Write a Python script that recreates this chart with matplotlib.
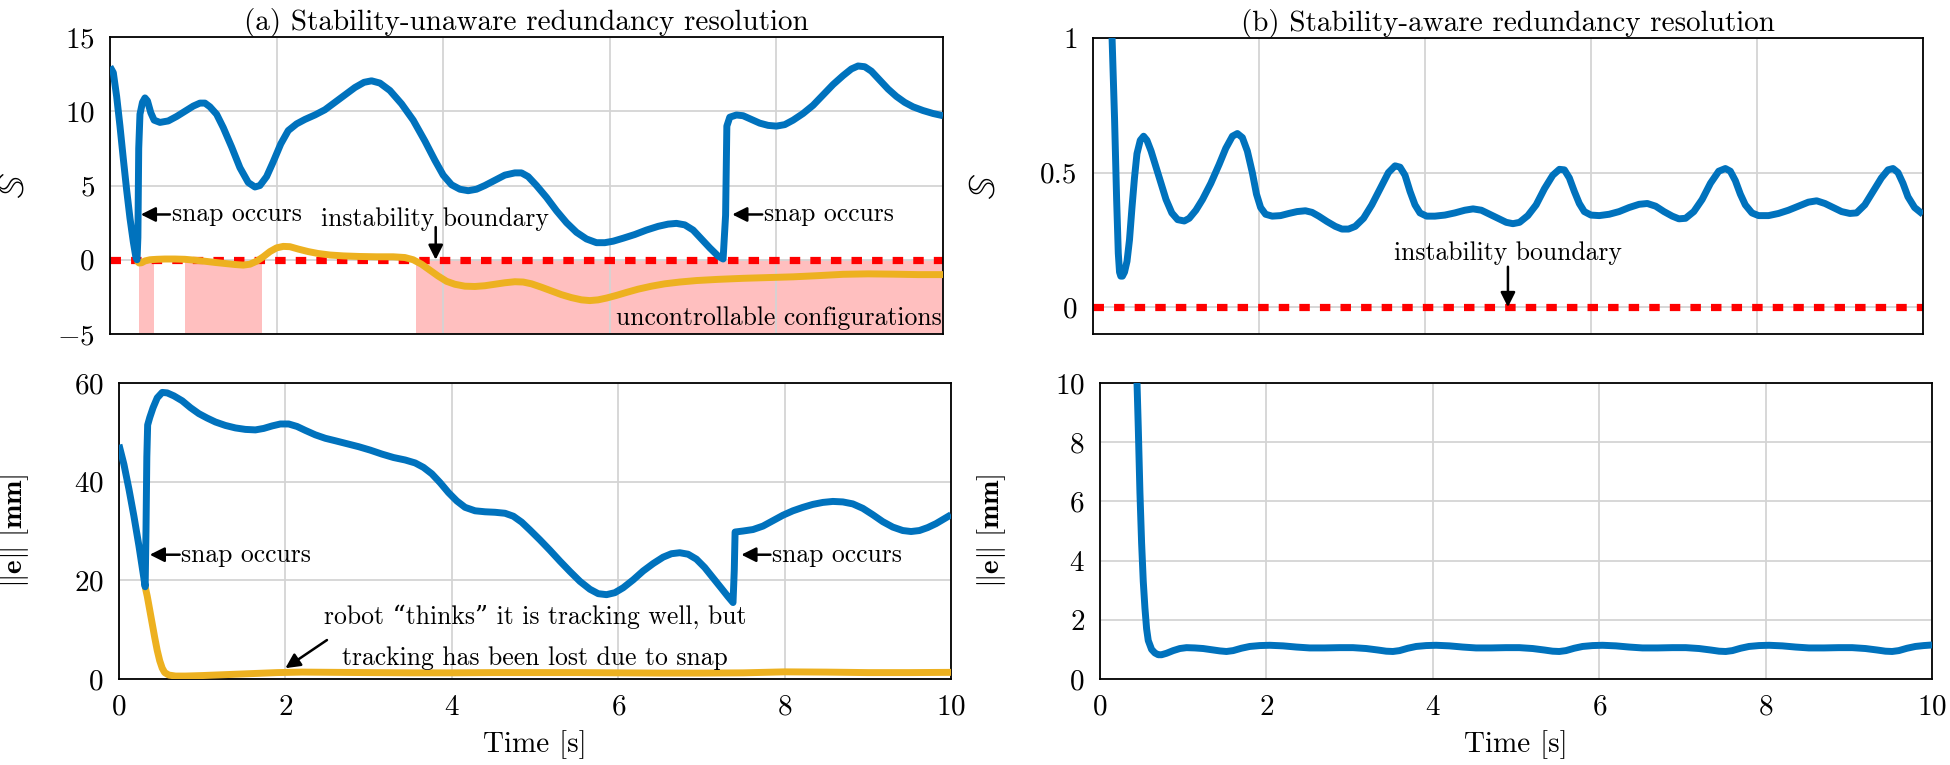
import matplotlib
matplotlib.use("Agg")
import matplotlib.pyplot as plt

plt.rcParams['font.family'] = ['cmr10', 'DejaVu Serif']
plt.rcParams['mathtext.fontset'] = 'cm'
plt.rcParams['axes.formatter.use_mathtext'] = True
plt.rcParams['axes.unicode_minus'] = True

BLUE = '#0072bd'
YELLOW = '#edb120'
RED = '#ff0000'
PINK = '#ffbfbf'
GRID = '#d4d4d4'

# (a) stability-unaware: S over time (actual)
t_a_S = [0.0, 0.04, 0.08, 0.12, 0.16, 0.2, 0.24, 0.28, 0.31, 0.325, 0.335, 0.345, 0.36, 0.39,
         0.42, 0.45, 0.49, 0.53, 0.6, 0.7, 0.8, 0.9, 1.0, 1.08, 1.14, 1.2, 1.28, 1.36, 1.46,
         1.56, 1.66, 1.74, 1.8, 1.88, 1.96, 2.05, 2.14, 2.24, 2.34, 2.46, 2.58, 2.7, 2.82,
         2.94, 3.05, 3.14, 3.24, 3.36, 3.5, 3.64, 3.78, 3.9, 4.0, 4.1, 4.2, 4.3, 4.4, 4.5,
         4.62, 4.74, 4.86, 4.94, 5.02, 5.12, 5.24, 5.36, 5.48, 5.6, 5.72, 5.84, 5.94, 6.04,
         6.16, 6.3, 6.44, 6.58, 6.7, 6.8, 6.9, 7.0, 7.1, 7.2, 7.3, 7.36, 7.39, 7.405, 7.44,
         7.52, 7.6, 7.7, 7.8, 7.9, 8.0, 8.1, 8.2, 8.32, 8.44, 8.56, 8.68, 8.8, 8.9, 8.98,
         9.06, 9.14, 9.24, 9.34, 9.44, 9.54, 9.64, 9.76, 9.88, 10.0]
S_a = [13.0, 12.6, 11.0, 9.0, 6.8, 4.7, 2.8, 1.2, 0.2, 0.0, 1.5, 7.5, 9.8, 10.6,
       10.9, 10.7, 9.9, 9.4, 9.25, 9.35, 9.65, 10.0, 10.35, 10.55, 10.55, 10.3, 9.8, 8.9, 7.6,
       6.2, 5.2, 4.9, 5.0, 5.6, 6.6, 7.8, 8.7, 9.15, 9.45, 9.75, 10.1, 10.6, 11.1,
       11.6, 11.95, 12.05, 11.9, 11.4, 10.5, 9.4, 8.0, 6.7, 5.7, 5.05, 4.75, 4.65, 4.75, 5.0,
       5.35, 5.7, 5.85, 5.85, 5.6, 5.0, 4.2, 3.3, 2.5, 1.85, 1.4, 1.15, 1.15, 1.25,
       1.45, 1.7, 2.0, 2.25, 2.4, 2.45, 2.35, 2.0, 1.4, 0.8, 0.25, 0.05, 3.0, 9.0, 9.6,
       9.75, 9.7, 9.45, 9.2, 9.05, 9.0, 9.1, 9.4, 9.85, 10.4, 11.1, 11.8, 12.4, 12.85, 13.05,
       13.0, 12.7, 12.1, 11.5, 11.0, 10.6, 10.3, 10.05, 9.85, 9.7]

# (a) S as estimated by the robot
t_a_Sest = [0.32, 0.35, 0.38, 0.42, 0.48, 0.56, 0.66, 0.78, 0.9, 1.02, 1.14, 1.26, 1.38, 1.5,
            1.6, 1.68, 1.76, 1.84, 1.92, 2.0, 2.08, 2.16, 2.26, 2.38, 2.5, 2.64, 2.8, 3.0,
            3.2, 3.4, 3.54, 3.64, 3.74, 3.84, 3.94, 4.04, 4.14, 4.26, 4.38, 4.5, 4.62, 4.74,
            4.86, 4.96, 5.06, 5.18, 5.3, 5.42, 5.54, 5.66, 5.76, 5.86, 5.96, 6.08, 6.2, 6.34,
            6.5, 6.66, 6.84, 7.04, 7.3, 7.6, 7.9, 8.2, 8.5, 8.8, 9.1, 9.4, 9.7, 10.0]
S_a_est = [-0.05, -0.22, -0.2, -0.08, 0.0, 0.03, 0.05, 0.05, 0.03, -0.03, -0.1, -0.18, -0.25, -0.32,
           -0.36, -0.3, -0.1, 0.2, 0.55, 0.8, 0.9, 0.88, 0.72, 0.55, 0.42, 0.32, 0.26, 0.22,
           0.2, 0.2, 0.15, 0.0, -0.3, -0.7, -1.1, -1.45, -1.65, -1.78, -1.8, -1.75, -1.65, -1.55,
           -1.48, -1.5, -1.62, -1.85, -2.1, -2.35, -2.55, -2.7, -2.75, -2.7, -2.58, -2.4, -2.2, -1.98,
           -1.78, -1.62, -1.5, -1.4, -1.32, -1.25, -1.2, -1.15, -1.07, -0.98, -0.95, -0.97, -1.0, -1.0]

# uncontrollable configuration intervals
unctrl_start = [0.35, 0.9, 3.67]
unctrl_end = [0.53, 1.82, 10.0]

# (a) tracking error, actual
t_a_e = [0.0, 0.06, 0.12, 0.18, 0.24, 0.29, 0.315, 0.325, 0.335, 0.345, 0.37, 0.41, 0.46, 0.52,
         0.58, 0.66, 0.76, 0.86, 0.96, 1.06, 1.16, 1.28, 1.4, 1.52, 1.64, 1.74, 1.84, 1.94,
         2.04, 2.14, 2.24, 2.36, 2.48, 2.6, 2.74, 2.88, 3.02, 3.16, 3.3, 3.44, 3.56, 3.66,
         3.76, 3.86, 3.96, 4.06, 4.16, 4.28, 4.4, 4.52, 4.64, 4.74, 4.84, 4.94, 5.06, 5.18,
         5.3, 5.42, 5.54, 5.66, 5.76, 5.86, 5.96, 6.06, 6.18, 6.3, 6.42, 6.54, 6.64, 6.74,
         6.84, 6.94, 7.04, 7.14, 7.24, 7.32, 7.38, 7.395, 7.405, 7.5, 7.62, 7.74, 7.86, 7.98,
         8.1, 8.22, 8.34, 8.46, 8.58, 8.7, 8.82, 8.94, 9.06, 9.18, 9.3, 9.42, 9.52, 9.62,
         9.72, 9.82, 9.92, 10.0]
e_a = [47.5, 43.5, 38.5, 33.0, 27.0, 21.5, 18.7, 30.0, 45.0, 51.5, 53.0, 55.0, 57.0, 58.1,
       58.0, 57.4, 56.4, 55.0, 53.8, 52.9, 52.1, 51.4, 50.9, 50.6, 50.5, 50.8, 51.3, 51.7,
       51.7, 51.2, 50.4, 49.5, 48.8, 48.3, 47.7, 47.1, 46.4, 45.6, 44.9, 44.4, 43.8, 42.9,
       41.6, 39.8, 37.8, 36.1, 34.8, 34.1, 33.9, 33.8, 33.6, 33.0, 31.8, 30.2, 28.2, 26.1,
       23.9, 21.8, 19.8, 18.2, 17.3, 17.1, 17.5, 18.5, 20.1, 21.9, 23.4, 24.7, 25.4, 25.6,
       25.3, 24.3, 22.6, 20.5, 18.4, 16.7, 15.5, 22.0, 29.8, 30.0, 30.3, 31.0, 32.1, 33.2,
       34.1, 34.8, 35.4, 35.8, 36.0, 35.9, 35.5, 34.6, 33.3, 31.9, 30.8, 30.1, 29.9, 30.1,
       30.7, 31.5, 32.5, 33.3]

# (a) tracking error as estimated by the robot
t_a_eest = [0.315, 0.34, 0.37, 0.4, 0.43, 0.46, 0.49, 0.52, 0.55, 0.6, 0.68, 0.8, 1.0, 1.3,
            1.6, 1.9, 2.2, 2.6, 3.0, 3.5, 4.0, 4.5, 5.0, 5.5, 6.0, 6.5, 7.0, 7.5, 8.0, 8.5,
            9.0, 9.5, 10.0]
e_a_est = [18.7, 16.8, 14.0, 11.2, 8.4, 5.8, 3.7, 2.2, 1.3, 0.8, 0.6, 0.6, 0.7, 0.9,
           1.1, 1.3, 1.4, 1.35, 1.3, 1.25, 1.25, 1.3, 1.3, 1.3, 1.25, 1.2, 1.2, 1.25, 1.45, 1.4,
           1.3, 1.3, 1.35]

# (b) stability-aware: S over time
t_b_S = [0.2, 0.23, 0.26, 0.285, 0.305, 0.32, 0.335, 0.355, 0.38, 0.41, 0.44, 0.47, 0.5, 0.53,
         0.57, 0.61, 0.65, 0.7, 0.76, 0.82, 0.88, 0.95, 1.02, 1.1, 1.16, 1.24, 1.32, 1.42,
         1.52, 1.6, 1.68, 1.74, 1.8, 1.86, 1.92, 1.97, 2.02, 2.08, 2.16, 2.26, 2.36, 2.46,
         2.56, 2.64, 2.72, 2.82, 2.92, 3.0, 3.08, 3.16, 3.26, 3.36, 3.46, 3.56, 3.64, 3.7,
         3.76, 3.82, 3.88, 3.94, 4.02, 4.12, 4.24, 4.36, 4.48, 4.58, 4.68, 4.78, 4.88, 4.98,
         5.06, 5.14, 5.24, 5.34, 5.44, 5.54, 5.62, 5.68, 5.74, 5.8, 5.86, 5.92, 6.0, 6.1,
         6.22, 6.34, 6.46, 6.58, 6.68, 6.78, 6.88, 6.98, 7.06, 7.14, 7.24, 7.34, 7.44, 7.54,
         7.62, 7.68, 7.74, 7.8, 7.86, 7.94, 8.02, 8.14, 8.26, 8.38, 8.5, 8.62, 8.72, 8.82,
         8.92, 9.02, 9.12, 9.2, 9.3, 9.4, 9.5, 9.58, 9.64, 9.7, 9.76, 9.82, 9.9, 10.0]
S_b = [1.3, 1.0, 0.7, 0.4, 0.2, 0.13, 0.115, 0.115, 0.13, 0.17, 0.25, 0.37, 0.48, 0.57,
       0.62, 0.635, 0.62, 0.58, 0.52, 0.46, 0.4, 0.35, 0.325, 0.32, 0.33, 0.36, 0.4, 0.46,
       0.53, 0.59, 0.635, 0.645, 0.63, 0.58, 0.5, 0.42, 0.37, 0.345, 0.338, 0.34, 0.348, 0.355,
       0.358, 0.352, 0.338, 0.318, 0.3, 0.29, 0.29, 0.3, 0.33, 0.38, 0.44, 0.5, 0.525, 0.52,
       0.49, 0.43, 0.38, 0.35, 0.338, 0.338, 0.342, 0.35, 0.36, 0.365, 0.36, 0.345, 0.33, 0.315,
       0.31, 0.315, 0.34, 0.38, 0.44, 0.49, 0.512, 0.51, 0.48, 0.43, 0.385, 0.355, 0.342, 0.34,
       0.345, 0.355, 0.37, 0.382, 0.385, 0.375, 0.355, 0.338, 0.328, 0.33, 0.355, 0.4, 0.46, 0.505,
       0.515, 0.505, 0.47, 0.42, 0.38, 0.35, 0.34, 0.34, 0.348, 0.36, 0.375, 0.39, 0.395, 0.385,
       0.37, 0.355, 0.348, 0.35, 0.38, 0.43, 0.48, 0.51, 0.515, 0.5, 0.46, 0.41, 0.37, 0.345]

# (b) tracking error
t_b_e = [0.42, 0.445, 0.46, 0.48, 0.5, 0.52, 0.54, 0.56, 0.58, 0.62, 0.66, 0.7, 0.74, 0.8,
         0.88, 0.96, 1.04, 1.14, 1.24, 1.34, 1.44, 1.52, 1.6, 1.7, 1.8, 1.92, 2.04, 2.2,
         2.36, 2.52, 2.7, 2.88, 3.04, 3.2, 3.34, 3.44, 3.52, 3.6, 3.7, 3.8, 3.92, 4.04,
         4.2, 4.36, 4.52, 4.7, 4.88, 5.04, 5.2, 5.34, 5.44, 5.52, 5.6, 5.7, 5.8, 5.92,
         6.04, 6.2, 6.36, 6.52, 6.7, 6.88, 7.04, 7.2, 7.34, 7.44, 7.52, 7.6, 7.7, 7.8,
         7.92, 8.04, 8.2, 8.36, 8.52, 8.7, 8.88, 9.04, 9.2, 9.34, 9.44, 9.52, 9.6, 9.7,
         9.8, 9.9, 10.0]
e_b = [12.0, 10.0, 8.5, 6.3, 4.6, 3.3, 2.4, 1.7, 1.3, 1.0, 0.88, 0.82, 0.82, 0.87,
       0.96, 1.03, 1.06, 1.05, 1.03, 0.99, 0.95, 0.93, 0.96, 1.04, 1.1, 1.13, 1.14, 1.12,
       1.08, 1.05, 1.05, 1.06, 1.06, 1.03, 0.98, 0.94, 0.93, 0.96, 1.04, 1.1, 1.13, 1.14,
       1.12, 1.08, 1.05, 1.05, 1.06, 1.06, 1.03, 0.98, 0.94, 0.93, 0.96, 1.04, 1.1, 1.13,
       1.14, 1.12, 1.08, 1.05, 1.05, 1.06, 1.06, 1.03, 0.98, 0.94, 0.93, 0.96, 1.04, 1.1,
       1.13, 1.14, 1.12, 1.08, 1.05, 1.05, 1.06, 1.06, 1.03, 0.98, 0.94, 0.93, 0.96, 1.04,
       1.1, 1.13, 1.15]

TICK_FS = 21
TXT_FS = 18.5
LAB_FS = 21
TITLE_FS = 21
LW = 5

fig = plt.figure(figsize=(19.5, 7.65), dpi=100)
ax_tl = fig.add_axes([0.0564, 0.5634, 0.4272, 0.3882])
ax_bl = fig.add_axes([0.0610, 0.1124, 0.4267, 0.3869])
ax_tr = fig.add_axes([0.5605, 0.5634, 0.4256, 0.3869])
ax_br = fig.add_axes([0.5641, 0.1124, 0.4267, 0.3869])


def style(ax):
    ax.set_axisbelow(True)
    ax.grid(True, color=GRID, lw=1.3)
    ax.tick_params(length=0, pad=11, labelsize=TICK_FS)
    for s in ax.spines.values():
        s.set_linewidth(1.3)
    ax.set_xlim(0, 10)
    ax.set_xticks([0, 2, 4, 6, 8, 10])


def arrow(ax, text_xy, tip_xy):
    ax.annotate('', xy=tip_xy, xytext=text_xy,
                arrowprops=dict(arrowstyle='-|>', color='k', lw=1.8, mutation_scale=22,
                                shrinkA=0, shrinkB=0), zorder=6)


red_kw = dict(color=RED, lw=5.2, dashes=(1.45, 1.4), dash_capstyle='butt', zorder=2)
line_kw = dict(lw=LW, solid_joinstyle='round', solid_capstyle='butt')

# top left
ax = ax_tl
style(ax)
for a, b in zip(unctrl_start, unctrl_end):
    ax.fill_between([a, b], -5, 0, color=PINK, lw=0, zorder=0.2)
ax.plot([0, 10], [0, 0], **red_kw)
ax.plot(t_a_Sest, S_a_est, color=YELLOW, zorder=3, **line_kw)
ax.plot(t_a_S, S_a, color=BLUE, zorder=4, **line_kw)
ax.set_ylim(-5, 15)
ax.set_yticks([-5, 0, 5, 10, 15])
ax.tick_params(axis='x', labelbottom=False)
ax.set_ylabel(r'$\mathbb{S}$', fontsize=27)
ax.yaxis.set_label_coords(-0.095, 0.5)
ax.set_title('(a) Stability-unaware redundancy resolution', fontsize=TITLE_FS, pad=5)
arrow(ax, (0.72, 3.05), (0.37, 3.05))
ax.text(0.74, 3.05, 'snap occurs', fontsize=TXT_FS, va='center', ha='left')
arrow(ax, (7.83, 3.05), (7.47, 3.05))
ax.text(7.85, 3.05, 'snap occurs', fontsize=TXT_FS, va='center', ha='left')
ax.text(3.9, 2.75, 'instability boundary', fontsize=TXT_FS, va='center', ha='center')
arrow(ax, (3.91, 2.2), (3.91, 0.0))
ax.text(9.98, -3.95, 'uncontrollable configurations', fontsize=TXT_FS, va='center', ha='right')

# bottom left
ax = ax_bl
style(ax)
ax.plot(t_a_eest, e_a_est, color=YELLOW, zorder=3, **line_kw)
ax.plot(t_a_e, e_a, color=BLUE, zorder=4, **line_kw)
ax.set_ylim(0, 60)
ax.set_yticks([0, 20, 40, 60])
ax.set_ylabel(r'$\Vert\mathbf{e}\Vert\ \mathbf{[mm]}$', fontsize=LAB_FS)
ax.yaxis.set_label_coords(-0.106, 0.5)
ax.set_xlabel('Time [s]', fontsize=LAB_FS, labelpad=7)
arrow(ax, (0.73, 25.2), (0.37, 25.2))
ax.text(0.75, 25.2, 'snap occurs', fontsize=TXT_FS, va='center', ha='left')
arrow(ax, (7.83, 25.2), (7.48, 25.2))
ax.text(7.85, 25.2, 'snap occurs', fontsize=TXT_FS, va='center', ha='left')
ax.text(5.0, 12.6, 'robot \u201cthinks\u201d it is tracking well, but', fontsize=TXT_FS,
        va='center', ha='center')
ax.text(5.0, 4.2, 'tracking has been lost due to snap', fontsize=TXT_FS,
        va='center', ha='center')
arrow(ax, (2.5, 7.9), (2.0, 2.2))

# top right
ax = ax_tr
style(ax)
ax.plot([0, 10], [0, 0], **red_kw)
ax.plot(t_b_S, S_b, color=BLUE, zorder=4, **line_kw)
ax.set_ylim(-0.1, 1)
ax.set_yticks([0, 0.5, 1])
ax.set_yticklabels(['0', '0.5', '1'])
ax.tick_params(axis='x', labelbottom=False)
ax.set_ylabel(r'$\mathbb{S}$', fontsize=27)
ax.yaxis.set_label_coords(-0.11, 0.5)
ax.set_title('(b) Stability-aware redundancy resolution', fontsize=TITLE_FS, pad=5)
ax.text(5.0, 0.2, 'instability boundary', fontsize=TXT_FS, va='center', ha='center')
arrow(ax, (5.0, 0.15), (5.0, 0.0))

# bottom right
ax = ax_br
style(ax)
ax.plot(t_b_e, e_b, color=BLUE, zorder=4, **line_kw)
ax.set_ylim(0, 10)
ax.set_yticks([0, 2, 4, 6, 8, 10])
ax.set_ylabel(r'$\Vert\mathbf{e}\Vert\ \mathbf{[mm]}$', fontsize=LAB_FS)
ax.yaxis.set_label_coords(-0.11, 0.5)
ax.set_xlabel('Time [s]', fontsize=LAB_FS, labelpad=7)

fig.savefig('out.png', dpi=100)
